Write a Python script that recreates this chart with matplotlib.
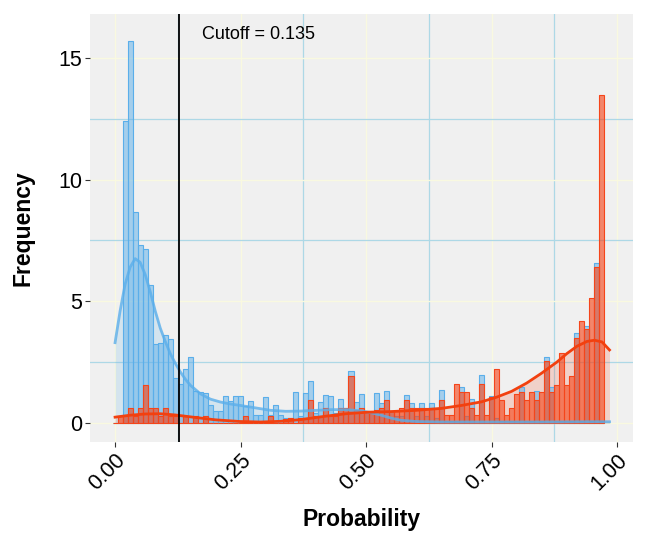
import numpy as np
import matplotlib
matplotlib.use("Agg")
import matplotlib.pyplot as plt
from matplotlib.ticker import MultipleLocator

plt.rcParams['font.family'] = ['Liberation Sans', 'DejaVu Sans']

# histogram bins: width 0.01, centred on 0.00 ... 0.97
bin_width = 0.01
bin_centers = np.arange(98) * bin_width

# group 1 (blue) bar heights
blue_freq = [
    0.0, 0.0, 12.4, 15.68, 8.68, 7.32, 7.16, 5.65, 3.23, 3.28,
    3.62, 3.46, 1.84, 1.6, 2.23, 2.70, 1.3, 1.27, 1.22, 0.72,
    0.51, 0.51, 1.10, 0.90, 1.10, 1.10, 0.68, 0.90, 0.34, 0.34,
    1.06, 0.34, 0.72, 0.34, 0.2, 0.2, 1.29, 0.3, 1.24, 1.71,
    0.4, 0.88, 1.17, 1.10, 0.4, 0.99, 0.6, 2.12, 0.88, 1.2,
    0.5, 0.5, 1.24, 0.81, 1.33, 0.5, 0.3, 0.3, 1.16, 0.82,
    0.3, 0.82, 0.3, 0.82, 0.2, 1.34, 0.1, 0.1, 0.1, 1.47,
    0.3, 0.99, 0.0, 1.98, 0.0, 1.12, 0.2, 0.1, 0.1, 0.1,
    0.1, 1.48, 0.1, 0.1, 1.31, 0.1, 2.73, 1.48, 0.1, 0.1,
    0.1, 0.1, 3.69, 0.1, 4.0, 0.1, 6.58, 0.1,
]

# group 2 (red) bar heights
red_freq = [
    0.0, 0.3, 0.3, 0.62, 0.3, 0.62, 1.58, 0.62, 0.62, 0.3,
    0.62, 0.3, 0.3, 0.0, 0.3, 0.0, 0.3, 0.0, 0.3, 0.0,
    0.0, 0.0, 0.0, 0.0, 0.0, 0.0, 0.3, 0.0, 0.0, 0.0,
    0.0, 0.3, 0.0, 0.0, 0.15, 0.2, 0.0, 0.2, 0.2, 0.95,
    0.3, 0.3, 0.62, 0.3, 0.3, 0.62, 0.62, 1.91, 0.55, 0.62,
    0.5, 0.5, 0.55, 0.62, 0.95, 0.5, 0.5, 0.62, 0.95, 0.62,
    0.62, 0.62, 0.62, 0.62, 0.62, 0.95, 0.31, 0.31, 1.61, 1.28,
    1.28, 0.62, 0.31, 1.61, 0.31, 1.06, 2.23, 0.95, 0.31, 0.61,
    1.2, 1.26, 0.95, 1.26, 0.95, 1.26, 2.54, 1.26, 1.58, 2.87,
    1.58, 1.91, 3.50, 4.17, 3.87, 5.13, 6.40, 13.49,
]

# smoothed density curves (scaled)
blue_dens_x = [0.0, 0.01, 0.02, 0.03, 0.04, 0.05, 0.06, 0.07, 0.08, 0.09,
               0.10, 0.11, 0.12, 0.13, 0.14, 0.15, 0.17, 0.19, 0.21, 0.23,
               0.25, 0.28, 0.31, 0.34, 0.37, 0.40, 0.43, 0.46, 0.49, 0.51,
               0.53, 0.55, 0.57, 0.60, 0.65, 0.75, 0.85, 0.95, 0.985]
blue_dens_y = [3.3, 4.6, 5.7, 6.4, 6.75, 6.6, 6.1, 5.4, 4.6, 3.9,
               3.35, 2.85, 2.45, 2.1, 1.8, 1.55, 1.2, 0.98, 0.86, 0.78,
               0.72, 0.62, 0.52, 0.48, 0.49, 0.52, 0.55, 0.55, 0.5, 0.42,
               0.32, 0.2, 0.11, 0.06, 0.04, 0.04, 0.04, 0.05, 0.05]

red_dens_x = [0.0, 0.03, 0.06, 0.09, 0.12, 0.155, 0.2, 0.25, 0.29, 0.33,
              0.37, 0.42, 0.46, 0.5, 0.55, 0.6, 0.65, 0.69, 0.73, 0.76,
              0.79, 0.82, 0.85, 0.88, 0.9, 0.92, 0.94, 0.955, 0.97, 0.985]
red_dens_y = [0.24, 0.32, 0.37, 0.38, 0.33, 0.24, 0.13, 0.06, 0.04, 0.07,
              0.14, 0.28, 0.38, 0.44, 0.47, 0.52, 0.6, 0.72, 0.87, 1.06,
              1.3, 1.64, 2.05, 2.5, 2.85, 3.15, 3.35, 3.4, 3.33, 3.0]

cutoff_label = 0.135
cutoff_pos = 0.128

blue_c = '#5AAEEA'
red_c = '#F5451A'

fig = plt.figure(figsize=(6.48, 5.46), dpi=100)
ax = fig.add_axes([0.139, 0.1905, 0.838, 0.7835])
ax.set_facecolor('#F0F0F0')
for s in ax.spines.values():
    s.set_visible(False)

# grid: major light yellow, minor light blue
ax.xaxis.set_major_locator(MultipleLocator(0.25))
ax.xaxis.set_minor_locator(MultipleLocator(0.125))
ax.yaxis.set_major_locator(MultipleLocator(5))
ax.yaxis.set_minor_locator(MultipleLocator(2.5))
ax.grid(which='major', color='#F9F9E0', linewidth=1.0)
ax.grid(which='minor', color='#ADD8E6', linewidth=0.9)
ax.set_axisbelow(True)

ax.fill_between(blue_dens_x, blue_dens_y, color=blue_c, alpha=0.18, linewidth=0)
ax.fill_between(red_dens_x, red_dens_y, color=red_c, alpha=0.18, linewidth=0)

ax.bar(bin_centers, blue_freq, width=bin_width, color=blue_c, alpha=0.5,
       linewidth=0)
ax.bar(bin_centers, blue_freq, width=bin_width, fill=False,
       edgecolor=blue_c, linewidth=0.8)
ax.bar(bin_centers, red_freq, width=bin_width, color=red_c, alpha=0.62,
       linewidth=0)
ax.bar(bin_centers, red_freq, width=bin_width, fill=False,
       edgecolor=red_c, linewidth=0.8)

ax.plot(blue_dens_x, blue_dens_y, color=blue_c, linewidth=2.0, alpha=0.8)
ax.plot(red_dens_x, red_dens_y, color='#F2400F', linewidth=2.0)

ax.axvline(cutoff_pos, color='black', linewidth=1.3)
ax.text(0.173, 15.95, 'Cutoff = %.3f' % cutoff_label, fontsize=13,
        ha='left', va='center', color='black')

ax.set_xlim(-0.0498, 1.032)
ax.set_ylim(-0.78, 16.79)

ax.set_xticks([0, 0.25, 0.5, 0.75, 1.0])
ax.set_xticklabels(['0.00', '0.25', '0.50', '0.75', '1.00'])
ax.set_yticks([0, 5, 10, 15])
ax.tick_params(which='major', length=3.5, width=0.8, color='#333333',
               labelsize=15.5, labelcolor='black', pad=2)
ax.tick_params(which='minor', length=0)
plt.setp(ax.get_xticklabels(), rotation=45, ha='right', va='top',
         rotation_mode='anchor')

ax.set_xlabel('Probability', fontsize=16.5, fontweight='bold', labelpad=10)
ax.set_ylabel('Frequency', fontsize=16.5, fontweight='bold', labelpad=17)

fig.savefig('out.png', dpi=100)
